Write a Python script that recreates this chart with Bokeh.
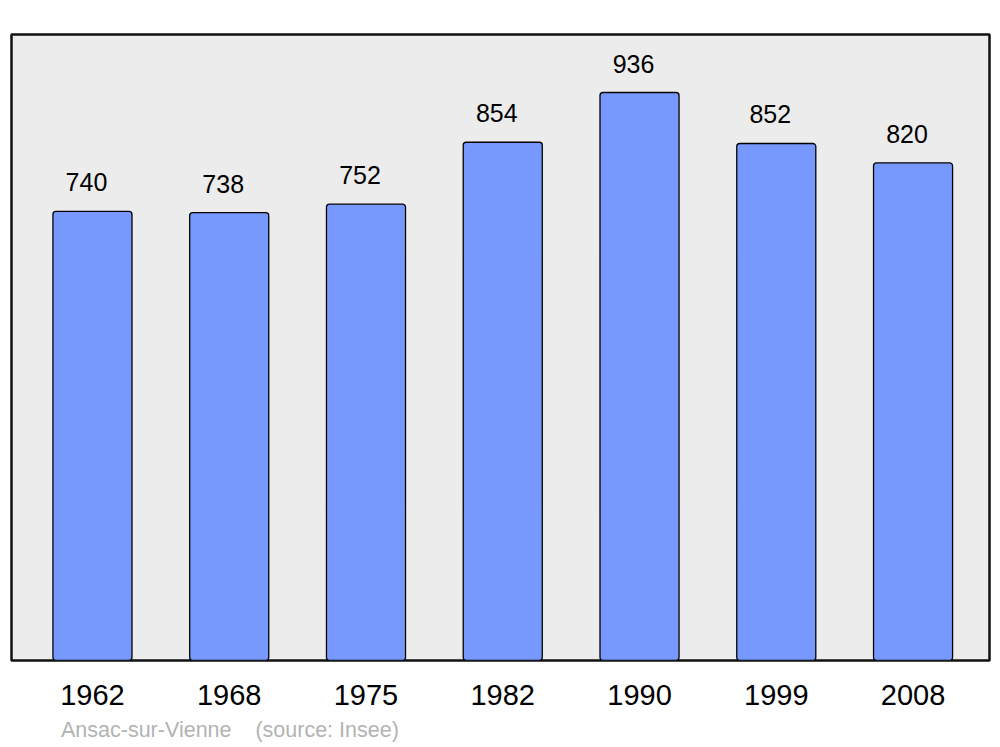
from bokeh.plotting import figure
from bokeh.models import ColumnDataSource, FixedTicker, Range1d, Div
from bokeh.layouts import column
from bokeh.core.properties import value
from bokeh.embed import file_html
from bokeh.resources import INLINE

years = ["1962", "1968", "1975", "1982", "1990", "1999", "2008"]
population = [740, 738, 752, 854, 936, 852, 820]
commune = "Ansac-sur-Vienne"
source = "(source: Insee)"

idx = list(range(len(years)))
src = ColumnDataSource(dict(x=idx, top=population, lab=[str(v) for v in population]))

p = figure(width=995, height=722, output_backend="svg", toolbar_location=None,
           x_range=Range1d(-0.592, 6.559), y_range=Range1d(0, 1031.6),
           min_border_left=11, min_border_right=6, min_border_top=34, min_border_bottom=62)
p.background_fill_color = "#ececec"
p.border_fill_color = "white"
p.outline_line_color = "#111111"
p.outline_line_width = 2.5
p.grid.visible = False
p.yaxis.visible = False

p.vbar(x="x", top="top", bottom=0, width=0.578, source=src,
       fill_color="#7799ff", line_color="black", line_width=1.3, border_radius=3)

p.text(x="x", y="top", text="lab", source=src, x_offset=-6, y_offset=-20,
       text_align="center", text_baseline="bottom",
       text_font=value("Liberation Sans"), text_font_size="25px", text_color="black")

ax = p.xaxis[0]
ax.ticker = FixedTicker(ticks=idx)
ax.major_label_overrides = {i: y for i, y in zip(idx, years)}
ax.axis_line_color = None
ax.major_tick_line_color = None
ax.minor_tick_line_color = None
ax.major_tick_out = 0
ax.major_tick_in = 0
ax.major_label_standoff = 24
ax.major_label_text_font = "Liberation Sans"
ax.major_label_text_font_size = "29px"
ax.major_label_text_color = "black"

footer = Div(text=commune + "&nbsp;&nbsp;&nbsp;&nbsp;" + source, width=600, height=22,
             margin=(0, 0, 0, 61),
             styles={"font-family": "Liberation Sans", "font-size": "21.5px",
                     "color": "#b3b3b3", "line-height": "16px", "white-space": "nowrap"})

layout = column(p, footer, spacing=0)
open("out.html", "w").write(file_html(layout, INLINE))
